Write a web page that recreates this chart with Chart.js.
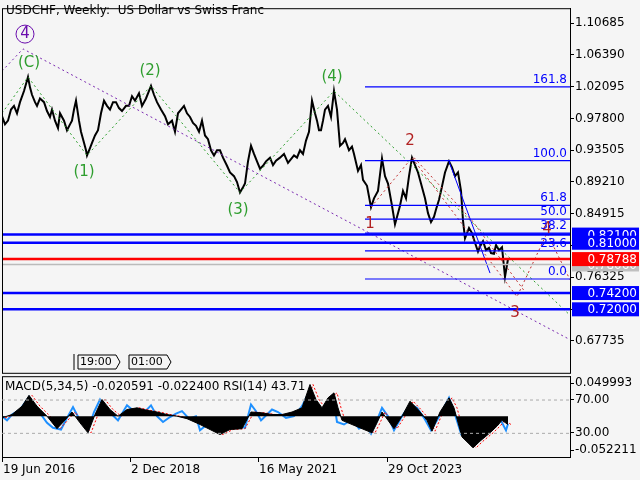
<!DOCTYPE html>
<html><head><meta charset="utf-8">
<script src="https://cdn.jsdelivr.net/npm/chart.js@4"></script>
<style>body{margin:0;background:#f5f5f5;width:640px;height:480px;overflow:hidden;position:relative}
canvas{position:absolute;left:0}</style></head><body>
<canvas id="c1" width="640" height="381" style="top:0"></canvas>
<canvas id="c2" width="640" height="112" style="top:368px"></canvas>
<script>
const weeks=[0,3,6,9,12,15,18,22,26,28,30,33,35,38,42,45,48,50,53,56,58,62,65,68,70,72,74,77,79,82,84,85,88,90,93,96,99,102,105,108,111,114,117,120,124,127,130,133,137,140,144,149,152,155,159,163,166,170,173,176,179,182,185,188,191,194,197,200,203,206,209,212,215,218,221,225,228,232,235,238,241,243,246,249,252,255,258,261,264,268,271,274,278,282,286,292,295,298,301,304,307,310,313,315,317,319,321,323,326,329,332,335,338,341,343,347,350,352,356,359,361,365,369,372,376,380,383,386,390,393,396,398,401,404,407,410,413,416,419,423,426,429,432,434,437,439,443,447,450,453,456,459,461,463,467,470,473,476,478,481,484,487,489,492,494,497,500,503,506];
const closes=[0.981,0.970,0.975,0.990,0.995,0.985,1.000,1.015,1.034,1.020,1.010,1.000,0.995,1.005,1.000,0.988,0.980,0.990,0.975,0.965,0.985,0.975,0.962,0.970,0.975,0.990,1.002,0.975,0.960,0.945,0.935,0.928,0.938,0.945,0.955,0.962,0.985,1.002,0.995,0.990,1.000,1.000,0.992,0.988,0.995,0.995,1.008,1.002,1.012,0.995,1.005,1.022,1.010,1.000,0.990,0.981,0.970,0.975,0.960,0.985,0.990,0.995,0.985,0.980,0.972,0.968,0.960,0.975,0.955,0.950,0.935,0.928,0.935,0.935,0.925,0.914,0.905,0.900,0.892,0.878,0.885,0.890,0.920,0.941,0.930,0.920,0.910,0.914,0.920,0.925,0.915,0.921,0.925,0.930,0.918,0.928,0.925,0.935,0.930,0.948,0.960,1.002,0.985,0.975,0.962,0.962,0.975,0.990,0.995,0.980,1.015,0.990,0.941,0.945,0.950,0.935,0.940,0.930,0.907,0.915,0.895,0.887,0.858,0.870,0.880,0.924,0.900,0.890,0.860,0.835,0.850,0.860,0.880,0.870,0.900,0.925,0.915,0.905,0.890,0.870,0.850,0.838,0.845,0.855,0.868,0.880,0.905,0.920,0.912,0.900,0.905,0.880,0.840,0.816,0.830,0.823,0.810,0.798,0.805,0.812,0.800,0.803,0.796,0.795,0.807,0.800,0.804,0.764,0.788];
const yTicks=[1.10685,1.06390,1.02095,0.97800,0.93505,0.89210,0.84915,0.80620,0.76325,0.72030,0.67735];
const levels=[0.8210,0.8100,0.7420,0.7200];
const lastPrice=0.78788, greyPrice=0.7806;
const fibValues=[1.0207,0.921,0.8605,0.842,0.823,0.799,0.761];
const fibLabels=["161.8","100.0","61.8","50.0","38.2","23.6","0.0"];
const purpleLine=[[0,1.042],[21,1.072],[568,0.679]];
const greenLine=[[0,0.985],[26,1.034],[85,0.928],[149,1.022],[238,0.878],[332,1.015],[568,0.712]];
const redLine=[[369,0.858],[410,0.925],[515,0.737],[545,0.823],[568,0.760]];
const redLine2=[[412,0.925],[470,0.84],[525,0.74]];
const blueLine=[[447,0.920],[488,0.769]];
const waveText=["4","(C)","(1)","(2)","(3)","(4)","1","2","3","4"];
const waveX=[23,27,82,148,236,330,368,408,513,545];
const waveY=[1.092,1.053,0.905,1.042,0.854,1.034,0.835,0.948,0.715,0.828];
const waveColor=["#6a0dad","#2e9e2e","#2e9e2e","#2e9e2e","#2e9e2e","#2e9e2e","#b22222","#b22222","#b22222","#b22222"];
const dateWeeks=[0,128,256,385];
const dateLabels=["19 Jun 2016","2 Dec 2018","16 May 2021","29 Oct 2023"];
const rsiW=[0,5,10,18,27,33,39,45,51,59,65,71,78,86,92,98,104,110,116,125,133,141,149,155,161,168,174,180,187,194,198,205,211,218,225,231,237,243,249,254,259,265,270,276,284,292,300,308,314,320,326,331,335,342,350,357,363,369,375,380,386,392,400,408,415,422,429,435,441,447,453,459,465,471,477,483,488,493,498,504,506];
const rsiV=[50,45,52,58,73,62,52,42,36,34,48,61,45,33,55,70,58,52,45,63,55,53,63,50,43,49,53,56,47,50,33,40,36,33,44,41,38,36,64,56,45,52,58,55,48,50,62,81,66,57,68,75,43,40,46,35,40,29,45,60,50,33,50,64,60,48,33,45,58,72,52,29,38,33,36,32,35,42,47,33,41];
const macdW=[0,10,20,27,35,45,55,62,70,78,86,93,100,108,116,125,135,145,155,165,175,185,198,208,218,228,240,249,260,270,280,290,300,308,314,320,326,332,336,340,350,360,370,375,380,386,392,400,408,416,425,430,438,447,452,460,466,471,478,488,495,500,506];
const macdV=[48,52,62,75,62,50,35,44,55,42,30,52,70,58,50,58,60,57,55,52,50,47,40,34,28,34,35,55,54,52,52,55,60,88,70,60,72,78,60,45,40,35,30,42,55,45,35,50,68,58,45,32,55,72,60,25,18,12,20,30,38,45,40];
const panelTicks=[89.4,70,30,9.4];
const panelLabels=["0.049993","70.00","30.00","-0.052211"];

const F='"DejaVu Sans", sans-serif';
const pts=a=>a.map(p=>({x:p[0],y:p[1]}));
const hl=(v,c,w,x0)=>({data:[{x:x0,y:v},{x:568,y:v}],borderColor:c,borderWidth:w,pointRadius:0});
const frame={id:'frame',beforeDraw(ch){const c=ch.ctx,top=ch.canvas.id==='c2'?ch.chartArea.top-1:0;c.save();c.clearRect(0,0,ch.width,ch.height);c.fillStyle='#f5f5f5';c.fillRect(0,top,ch.width,ch.height-top);c.restore();},
 afterDraw(ch){const c=ch.ctx,a=ch.chartArea;c.save();c.strokeStyle='#000';c.lineWidth=1;c.strokeRect(a.left+0.5,a.top+0.5,a.width,a.height);c.restore();}};
const ds1=[];
levels.forEach(v=>ds1.push(hl(v,'#0000ff',2.5,0)));
ds1.push(hl(greyPrice,'#bbbbbb',1.5,0));
ds1.push(hl(lastPrice,'#ff0000',2.5,0));
fibValues.forEach(v=>ds1.push(hl(v,'#0000ff',1.2,363)));
ds1.push({data:pts(purpleLine),borderColor:'#7a2ab0',borderWidth:1,borderDash:[2,3],pointRadius:0});
ds1.push({data:pts(greenLine),borderColor:'#2e9e2e',borderWidth:1,borderDash:[2,3],pointRadius:0});
ds1.push({data:pts(redLine),borderColor:'#c03030',borderWidth:1,borderDash:[2,3],pointRadius:0});
ds1.push({data:pts(redLine2),borderColor:'#c03030',borderWidth:1,borderDash:[2,3],pointRadius:0});
ds1.push({data:pts(blueLine),borderColor:'#0000ff',borderWidth:1,pointRadius:0});
ds1.push({data:weeks.map((w,i)=>({x:w,y:closes[i]})),borderColor:'#000',borderWidth:2,pointRadius:0,tension:0});
const annot={id:'annot',afterDraw(ch){const c=ch.ctx,x=ch.scales.x,y=ch.scales.y,a=ch.chartArea;c.save();
 c.font='12px '+F;c.fillStyle='#000';c.textAlign='left';c.textBaseline='top';c.fillText('USDCHF, Weekly:  US Dollar vs Swiss Franc',6,5);
 c.font='15px '+F;c.textAlign='center';c.textBaseline='middle';
 waveText.forEach((t,i)=>{c.fillStyle=waveColor[i];c.fillText(t,x.getPixelForValue(waveX[i]),y.getPixelForValue(waveY[i]));});
 c.strokeStyle='#6a0dad';c.lineWidth=1;c.beginPath();c.arc(x.getPixelForValue(waveX[0]),y.getPixelForValue(waveY[0]),9,0,7);c.stroke();
 c.font='12px '+F;c.fillStyle='#0000ff';c.textAlign='right';c.textBaseline='bottom';
 fibLabels.forEach((t,i)=>c.fillText(t,a.right-3,y.getPixelForValue(fibValues[i])-1));
 const box=(v,col,txt)=>{const py=y.getPixelForValue(v);c.fillStyle=col;c.fillRect(a.right+2,py-7,67,14);c.fillStyle='#fff';c.font='12px '+F;c.textAlign='right';c.textBaseline='middle';c.fillText(txt,a.right+67,py+1);};
 box(greyPrice,'#c0c0c0',greyPrice.toFixed(5));box(lastPrice,'#ff0000',lastPrice.toFixed(5));
 levels.forEach(v=>box(v,'#0000ff',v.toFixed(5)));
 c.font='11px '+F;c.fillStyle='#000';c.textAlign='left';c.textBaseline='middle';c.strokeStyle='#000';
 [['19:00',78],['01:00',129]].forEach(([t,px])=>{const w=38,py=362;c.beginPath();c.moveTo(px,py-7);c.lineTo(px+w,py-7);c.lineTo(px+w+4,py);c.lineTo(px+w,py+7);c.lineTo(px,py+7);c.closePath();c.fillStyle='#f5f5f5';c.fill();c.stroke();c.fillStyle='#000';c.fillText(t,px+2,py);});
 c.beginPath();c.moveTo(74,354);c.lineTo(74,370);c.stroke();
 c.restore();}};
new Chart(document.getElementById('c1'),{type:'line',data:{datasets:ds1},plugins:[frame,annot],
 options:{responsive:false,animation:false,devicePixelRatio:1,layout:{padding:{left:2,top:0,right:0,bottom:0}},
 plugins:{legend:{display:false},tooltip:{enabled:false}},
 scales:{x:{type:'linear',min:0,max:568,display:false},
  y:{position:'right',min:0.6342,max:1.1270,afterFit(s){s.width=70;},afterBuildTicks(s){s.ticks=yTicks.map(v=>({value:v}));},
   border:{color:'#000'},grid:{drawOnChartArea:false,tickLength:4,color:'#000'},
   ticks:{color:'#000',font:{size:12,family:F},padding:1,callback:v=>v.toFixed(5)}}}}});
const dates={id:'dates',afterDraw(ch){const c=ch.ctx,x=ch.scales.x,a=ch.chartArea;c.save();c.font='12px '+F;c.fillStyle='#000';c.strokeStyle='#000';c.textAlign='left';c.textBaseline='top';
 dateWeeks.forEach((w,i)=>{const px=x.getPixelForValue(w);c.beginPath();c.moveTo(px+0.5,a.bottom);c.lineTo(px+0.5,a.bottom+5);c.stroke();c.fillText(dateLabels[i],px+1,a.bottom+7);});
 c.font='12px '+F;c.fillText('MACD(5,34,5) -0.020591 -0.022400 RSI(14) 43.71',5,a.top+5);
 c.setLineDash([3,3]);c.strokeStyle='#aaa';[70,30].forEach(v=>{const py=ch.scales.y.getPixelForValue(v)+0.5;c.beginPath();c.moveTo(a.left,py);c.lineTo(a.right,py);c.stroke();});
 c.restore();}};
new Chart(document.getElementById('c2'),{type:'line',
 data:{datasets:[
  {data:macdW.map((w,i)=>({x:w,y:macdV[i]})),borderColor:'#000',borderWidth:1,backgroundColor:'#000',fill:{value:50},pointRadius:0},
  {data:macdW.map((w,i)=>({x:w+3,y:macdV[i]})),borderColor:'#ff0000',borderWidth:1,borderDash:[2,2],pointRadius:0},
  {data:rsiW.map((w,i)=>({x:w,y:rsiV[i]})),borderColor:'#1e90ff',borderWidth:2,pointRadius:0}]},
 plugins:[frame,dates],
 options:{responsive:false,animation:false,devicePixelRatio:1,layout:{padding:{left:2,top:0,right:0,bottom:23}},
 plugins:{legend:{display:false},tooltip:{enabled:false}},
 scales:{x:{type:'linear',min:0,max:568,display:false},
  y:{position:'right',min:1,max:98,afterFit(s){s.width=70;},afterBuildTicks(s){s.ticks=panelTicks.map(v=>({value:v}));},
   border:{color:'#000'},grid:{drawOnChartArea:false,tickLength:4,color:'#000'},
   ticks:{color:'#000',font:{size:12,family:F},padding:1,callback:v=>panelLabels[panelTicks.indexOf(v)]}}}}});
</script></body></html>
